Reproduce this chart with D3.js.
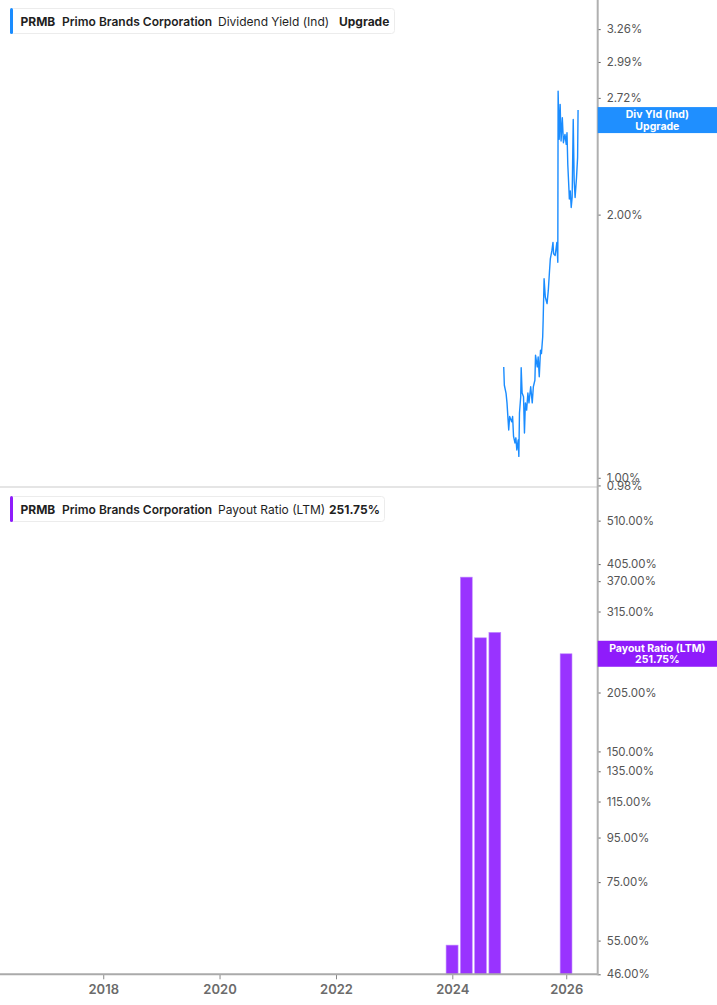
<!DOCTYPE html>
<html>
<head>
<meta charset="utf-8">
<title>PRMB Dividend Yield and Payout Ratio</title>
<script src="https://d3js.org/d3.v7.min.js"></script>
<style>
    body { margin: 0; background: #fff; }
    svg { display: block; font-family: Inter, "Noto Sans", sans-serif; }
</style>
</head>
<body>

<svg width="717" height="1005"></svg>

<script>
// dividend yield (ind), %
const yieldDates = [
    "2024-11-26","2024-11-30","2024-12-11","2024-12-17","2024-12-24","2024-12-28",
    "2025-01-03","2025-01-16","2025-01-22","2025-01-28","2025-02-06","2025-02-12",
    "2025-02-18","2025-02-27","2025-03-03","2025-03-07","2025-03-15","2025-03-18",
    "2025-03-24","2025-04-02","2025-04-08","2025-04-14","2025-04-22","2025-04-30",
    "2025-05-07","2025-05-18","2025-05-28","2025-06-04","2025-06-14","2025-06-18",
    "2025-06-29","2025-07-05","2025-07-12","2025-07-20","2025-07-26","2025-08-03",
    "2025-08-06","2025-08-12","2025-08-20","2025-08-31","2025-09-08","2025-09-16",
    "2025-09-21","2025-10-01","2025-10-08","2025-10-12","2025-10-22","2025-11-02",
    "2025-11-08","2025-11-10","2025-11-17","2025-11-23","2025-11-29","2025-12-07",
    "2025-12-14","2025-12-24","2026-01-01","2026-01-06","2026-01-11","2026-01-19",
    "2026-01-21","2026-01-27","2026-02-02","2026-02-08","2026-02-15","2026-02-21",
    "2026-02-27","2026-03-08","2026-03-15","2026-03-18"
]
const yieldValues = [
    1.339, 1.276, 1.249, 1.218, 1.164, 1.134,
    1.175, 1.159, 1.175, 1.115, 1.096, 1.111,
    1.076, 1.105, 1.058, 1.186, 1.238, 1.336,
    1.250, 1.238, 1.125, 1.218, 1.195, 1.250,
    1.218, 1.271, 1.218, 1.271, 1.293, 1.381,
    1.339, 1.375, 1.305, 1.399, 1.387, 1.449,
    1.514, 1.689, 1.609, 1.582, 1.638, 1.726,
    1.780, 1.819, 1.859, 1.804, 1.796, 1.859,
    1.764, 2.769, 2.439, 2.674, 2.428, 2.581,
    2.417, 2.471, 2.407, 2.482, 2.284, 2.129,
    2.084, 2.129, 2.038, 2.092, 2.570, 2.186,
    2.092, 2.205, 2.324, 2.634
]

// payout ratio (LTM), %
const payoutDates = ["2023-12-31", "2024-03-31", "2024-06-30", "2024-09-30", "2025-12-31"]
const payoutValues = [53.7, 378, 274, 282, 251.75]

const yieldTicks = [0.98, 1.00, 2.00, 2.72, 2.99, 3.26]
const payoutTicks = [46, 55, 75, 95, 115, 135, 150, 205, 315, 370, 405, 510]
const yearTicks = [2018, 2020, 2022, 2024, 2026]

const blue = "#1a8cff"
const purple = "#9933ff"
const parse = d3.timeParse("%Y-%m-%d")

const svg = d3.select("svg")
const plotRight = 597.7
const axisBottomY = 974.3
const divider = 487

const x = d3.scaleTime()
    .domain([parse("2016-03-24"), parse("2024-01-01"), parse("2026-07-22")])
    .range([0, 452.3, plotRight])

const yTop = d3.scaleLog().domain([0.976, 3.52]).range([divider, 0])
const yBot = d3.scaleLog().domain([46, 600]).range([axisBottomY, 490])

// panel divider
svg.append("line")
    .attr("x1", 0).attr("x2", plotRight)
    .attr("y1", divider).attr("y2", divider)
    .attr("stroke", "#dcdcdc").attr("stroke-width", 1.5)

// yield line
const yieldData = yieldDates.map((d, i) => ({ date: parse(d), value: yieldValues[i] }))
svg.append("path")
    .datum(yieldData)
    .attr("fill", "none")
    .attr("stroke", blue)
    .attr("stroke-width", 1.4)
    .attr("stroke-linejoin", "round")
    .attr("d", d3.line().x(d => x(d.date)).y(d => yTop(d.value)))

// payout bars
const payoutData = payoutDates.map((d, i) => ({ date: parse(d), value: payoutValues[i] }))
svg.selectAll(".bar")
    .data(payoutData)
    .enter().append("rect")
    .attr("class", "bar")
    .attr("x", d => x(d3.timeDay.offset(d.date, -38)))
    .attr("width", d => x(d3.timeDay.offset(d.date, 38)) - x(d3.timeDay.offset(d.date, -38)))
    .attr("y", d => yBot(d.value))
    .attr("height", d => axisBottomY - yBot(d.value))
    .attr("fill", purple)
    .attr("stroke", "#c18cff")
    .attr("stroke-width", 0.6)

// right axes
function styleAxis(g) {
    g.select(".domain").remove()
    g.selectAll(".tick line").attr("stroke", "#666")
    g.selectAll(".tick text")
        .attr("fill", "#555")
        .style("font-family", "Inter, sans-serif")
        .style("font-size", "11.5px")
}

svg.append("g")
    .attr("transform", "translate(" + plotRight + ",0)")
    .call(d3.axisRight(yTop).tickValues(yieldTicks)
        .tickFormat(d => d.toFixed(2) + "%").tickSize(3).tickPadding(6))
    .call(styleAxis)

svg.append("g")
    .attr("transform", "translate(" + plotRight + ",0)")
    .call(d3.axisRight(yBot).tickValues(payoutTicks)
        .tickFormat(d => d.toFixed(2) + "%").tickSize(3).tickPadding(6))
    .call(styleAxis)

// x axis
const xAxis = svg.append("g")
    .attr("transform", "translate(0," + axisBottomY + ")")
    .call(d3.axisBottom(x)
        .tickValues(yearTicks.map(y => new Date(y, 0, 1)))
        .tickFormat(d3.timeFormat("%Y")).tickSize(5).tickPadding(5))
xAxis.select(".domain").remove()
xAxis.selectAll(".tick line").attr("stroke", "#888")
xAxis.selectAll(".tick text")
    .attr("fill", "#6b6b6b")
    .style("font-family", "Inter, sans-serif")
    .style("font-size", "13px")
    .style("font-weight", "600")

// axis lines
svg.append("line")
    .attr("x1", 0).attr("x2", plotRight)
    .attr("y1", axisBottomY).attr("y2", axisBottomY)
    .attr("stroke", "#aaa").attr("stroke-width", 2)
svg.append("line")
    .attr("x1", plotRight).attr("x2", plotRight)
    .attr("y1", 0).attr("y2", axisBottomY + 1)
    .attr("stroke", "#b0b0b0").attr("stroke-width", 2)

// value tags on the right
function tag(yCenter, color, lines) {
    const g = svg.append("g").attr("transform", "translate(" + plotRight + "," + (yCenter - 13) + ")")
    g.append("rect").attr("width", 717 - plotRight).attr("height", 26).attr("fill", color)
    lines.forEach((t, i) => {
        g.append("text")
            .attr("x", (717 - plotRight) / 2)
            .attr("y", 11 + i * 11.7)
            .attr("text-anchor", "middle")
            .attr("fill", "#fff")
            .style("font-size", "10.5px")
            .style("font-weight", "700")
            .text(t)
    })
}
const lastYield = yieldValues[yieldValues.length - 1]
tag(yTop(lastYield) + 10, "#1f8fff", ["Div Yld (Ind)", "Upgrade"])
const lastPayout = payoutValues[payoutValues.length - 1]
tag(yBot(lastPayout), "#8f1cfb", ["Payout Ratio (LTM)", d3.format(".2f")(lastPayout) + "%"])

// legends
function legend(top, color, width, parts) {
    const g = svg.append("g").attr("transform", "translate(10," + top + ")")
    g.append("rect")
        .attr("x", 0.5).attr("y", 0.5)
        .attr("width", width).attr("height", 25)
        .attr("rx", 3)
        .attr("fill", "#fff").attr("stroke", "#ececec")
    g.append("rect")
        .attr("x", 0).attr("y", 0)
        .attr("width", 3).attr("height", 26)
        .attr("rx", 1.5)
        .attr("fill", color)
    parts.forEach(p => {
        g.append("text")
            .attr("x", p.x)
            .attr("y", 17.5)
            .attr("fill", "#1f1f1f")
            .style("font-size", "12px")
            .style("font-weight", p.w)
            .text(p.t)
    })
}

legend(8, blue, 384, [
    { t: "PRMB", x: 10.5, w: 700 },
    { t: "Primo Brands Corporation", x: 52, w: 600 },
    { t: "Dividend Yield (Ind)", x: 208, w: 400 },
    { t: "Upgrade", x: 329, w: 700 }
])

legend(496, "#8f1cfb", 374, [
    { t: "PRMB", x: 10.5, w: 700 },
    { t: "Primo Brands Corporation", x: 52, w: 600 },
    { t: "Payout Ratio (LTM)", x: 208, w: 400 },
    { t: d3.format(".2f")(lastPayout) + "%", x: 319, w: 700 }
])
</script>

</body>
</html>
